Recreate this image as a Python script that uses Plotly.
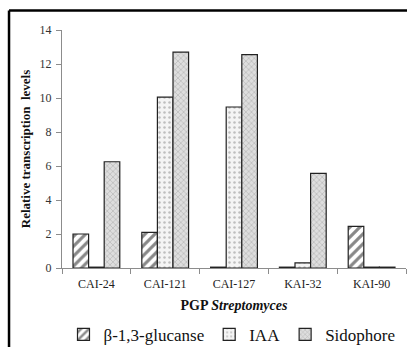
import plotly.graph_objects as go

categories = ["CAI-24", "CAI-121", "CAI-127", "KAI-32", "KAI-90"]
glucanase = [2.0, 2.1, 0.05, 0.05, 2.45]
iaa = [0.05, 10.05, 9.47, 0.3, 0.05]
sidophore = [6.25, 12.7, 12.55, 5.57, 0.05]
y_ticks = [0, 2, 4, 6, 8, 10, 12, 14]

FONT = "Liberation Serif"

fig = go.Figure()
fig.add_trace(go.Bar(
    x=categories, y=glucanase, name="β-1,3-glucanse",
    marker=dict(color="white", line=dict(color="#222", width=1.2),
                pattern=dict(shape="/", fgcolor="#111", bgcolor="white", size=7, solidity=0.45)),
))
fig.add_trace(go.Bar(
    x=categories, y=iaa, name="IAA",
    marker=dict(color="white", line=dict(color="#222", width=1.2),
                pattern=dict(shape=".", fgcolor="#888", bgcolor="#f4f4f4", size=5, solidity=0.2)),
))
fig.add_trace(go.Bar(
    x=categories, y=sidophore, name="Sidophore",
    marker=dict(color="white", line=dict(color="#222", width=1.2),
                pattern=dict(shape="x", fgcolor="#8a8a8a", bgcolor="#dedede", size=4, solidity=0.3)),
))

fig.update_layout(
    width=407, height=347,
    margin=dict(l=62, r=1, t=30, b=79, autoexpand=False),
    paper_bgcolor="white", plot_bgcolor="white",
    barmode="group", bargap=0.32, bargroupgap=0,
    font=dict(family=FONT, color="#222"),
    showlegend=True,
    legend=dict(orientation="h", xref="container", yref="container",
                x=0.57, xanchor="center", y=0.035, yanchor="middle",
                font=dict(size=17, family=FONT, color="#111"),
                itemwidth=30, tracegroupgap=0),
    xaxis=dict(
        showline=True, linecolor="#8c8c8c", linewidth=1,
        ticks="outside", tickson="boundaries", ticklen=5, tickcolor="#8c8c8c",
        ticklabelstandoff=5,
        tickfont=dict(size=12, family=FONT, color="#222"),
        title=dict(text="<b>PGP <i>Streptomyces</i></b>", font=dict(size=14, family=FONT, color="#111"), standoff=9),
        showgrid=False,
    ),
    yaxis=dict(
        range=[0, 14], tickvals=y_ticks,
        showline=True, linecolor="#8c8c8c", linewidth=1,
        ticks="outside", ticklen=5, tickcolor="#8c8c8c",
        ticklabelstandoff=2,
        tickfont=dict(size=12, family=FONT, color="#333"),
        title=dict(text="<b>Relative transcription  levels</b>", font=dict(size=13, family=FONT, color="#111"), standoff=6),
        showgrid=False, zeroline=False,
    ),
    shapes=[
        dict(type="line", xref="paper", yref="paper", x0=-0.154, x1=1.01, y0=1.082, y1=1.082,
             line=dict(color="black", width=2.5)),
        dict(type="line", xref="paper", yref="paper", x0=-0.154, x1=-0.154, y0=1.082, y1=-0.34,
             line=dict(color="black", width=2.5)),
    ],
)

fig.write_html("out.html")
